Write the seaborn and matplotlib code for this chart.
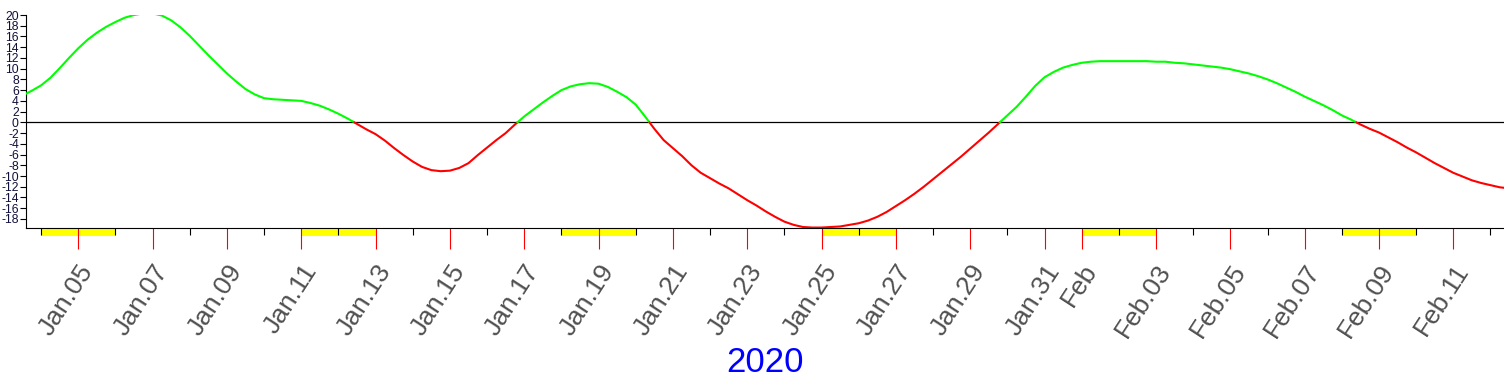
import numpy as np
import pandas as pd
import seaborn as sns
import matplotlib.pyplot as plt
import matplotlib.dates as mdates
import matplotlib.transforms as mtrans
from matplotlib.patches import Rectangle

# values, one every 6 hours starting at start_time
start_time = "2020-01-03 12:00"
values = [5.0, 5.9, 6.9, 8.3, 10.1, 12.0, 13.8, 15.4, 16.7, 17.8,
          18.7, 19.5, 20.0, 20.3, 20.3, 19.9, 19.0, 17.7, 16.1, 14.3,
          12.5, 10.8, 9.1, 7.6, 6.2, 5.2, 4.5, 4.3, 4.2, 4.1,
          4.0, 3.6, 3.1, 2.4, 1.6, 0.7, -0.3, -1.3, -2.2, -3.4,
          -4.8, -6.1, -7.3, -8.3, -8.9, -9.1, -9.0, -8.5, -7.6, -6.1,
          -4.7, -3.3, -2.0, -0.4, 1.1, 2.4, 3.7, 4.9, 6.0, 6.7,
          7.1, 7.3, 7.2, 6.6, 5.7, 4.7, 3.3, 1.1, -1.2, -3.3,
          -4.8, -6.3, -8.0, -9.4, -10.4, -11.4, -12.3, -13.4, -14.5, -15.5,
          -16.6, -17.6, -18.5, -19.1, -19.5, -19.6, -19.6, -19.5, -19.4, -19.1,
          -18.8, -18.3, -17.6, -16.7, -15.6, -14.5, -13.3, -12.0, -10.6, -9.2,
          -7.8, -6.4, -4.9, -3.4, -1.9, -0.3, 1.3, 2.9, 4.8, 6.8,
          8.4, 9.4, 10.2, 10.7, 11.1, 11.3, 11.4, 11.4, 11.4, 11.4,
          11.4, 11.4, 11.3, 11.3, 11.1, 11.0, 10.8, 10.6, 10.4, 10.2,
          9.9, 9.5, 9.1, 8.6, 8.0, 7.3, 6.5, 5.7, 4.8, 4.0,
          3.2, 2.3, 1.3, 0.5, -0.4, -1.2, -1.9, -2.8, -3.7, -4.7,
          -5.6, -6.6, -7.6, -8.5, -9.4, -10.1, -10.8, -11.3, -11.7, -12.1,
          -12.3]

weekends = ["2020-01-04", "2020-01-11", "2020-01-18", "2020-01-25",
            "2020-02-01", "2020-02-08"]
x_start, x_end = "2020-01-03 14:02", "2020-02-12 08:44"
y_ticks = list(range(-18, 21, 2))
year_label = "2020"

sns.set_style("white")
plt.rcParams['font.family'] = ['Liberation Sans', 'DejaVu Sans']
plt.rcParams['axes.unicode_minus'] = False

times = pd.date_range(start_time, periods=len(values), freq="6h")

# split the series where it crosses zero so each part gets its own colour
rows = []
seg = 0
for i, (t, v) in enumerate(zip(times, values)):
    if i > 0 and (v >= 0) != (values[i - 1] >= 0):
        frac = values[i - 1] / (values[i - 1] - v)
        tc = times[i - 1] + (t - times[i - 1]) * frac
        rows.append((tc, 0.0, seg))
        seg += 1
        rows.append((tc, 0.0, seg))
    rows.append((t, v, seg))
df = pd.DataFrame(rows, columns=["time", "value", "seg"])
pal = {s: ("#00ff00" if g["value"].mean() >= 0 else "#ff0000")
       for s, g in df.groupby("seg")}

fig = plt.figure(figsize=(15.04, 3.77), dpi=100)
ax = fig.add_axes([25.7 / 1504, 148.7 / 377, 1 - 25.7 / 1504, 213.3 / 377])

for w in weekends:
    x0 = mdates.date2num(pd.Timestamp(w))
    ax.add_patch(Rectangle((x0, -0.0347), 2.0, 0.0347, transform=ax.get_xaxis_transform(),
                           facecolor="#ffff00", edgecolor="none", clip_on=False, zorder=0.5))

ax.axhline(0, color="black", lw=0.9, zorder=1.2)
sns.lineplot(data=df, x="time", y="value", hue="seg", palette=pal, legend=False,
             estimator=None, sort=False, lw=1.5, ax=ax, zorder=3)

ax.set_xlim(pd.Timestamp(x_start), pd.Timestamp(x_end))
ax.set_ylim(-19.74, 20)
ax.set_xlabel("")
ax.set_ylabel("")
ax.spines["top"].set_visible(False)
ax.spines["right"].set_visible(False)
for s in ["left", "bottom"]:
    ax.spines[s].set_color("black")
    ax.spines[s].set_linewidth(0.8)

days = pd.date_range("2020-01-01", "2020-02-29", freq="D")
days = days[(days >= pd.Timestamp(x_start)) & (days <= pd.Timestamp(x_end))]
major = [d for d in days if d.day % 2 == 1]
minor = [d for d in days if d.day % 2 == 0]
labels = ["Feb" if d.day == 1 else d.strftime("%b.%d") for d in major]
ax.set_xticks(major)
ax.set_xticklabels(labels)
ax.set_xticks(minor, minor=True)
ax.tick_params(axis="x", which="major", bottom=True, length=15.4, width=0.8, color="red",
               pad=12, labelsize=19, labelcolor="#505050")
ax.tick_params(axis="x", which="minor", bottom=True, length=5.3, width=0.8, color="black")
offset = mtrans.ScaledTranslation(0.10, 0, fig.dpi_scale_trans)
for lab in ax.get_xticklabels():
    lab.set_rotation(57)
    lab.set_ha("right")
    lab.set_va("center")
    lab.set_rotation_mode("anchor")
    lab.set_transform(lab.get_transform() + offset)

ax.set_yticks(y_ticks)
ax.tick_params(axis="y", left=True, length=4, width=0.8, color="black", pad=1,
               labelsize=8.7, labelcolor="#10103a")

fig.text(765 / 1504, 1 - 362 / 377, year_label, color="blue", fontsize=25,
         ha="center", va="center")

fig.savefig("out.png", dpi=100)
